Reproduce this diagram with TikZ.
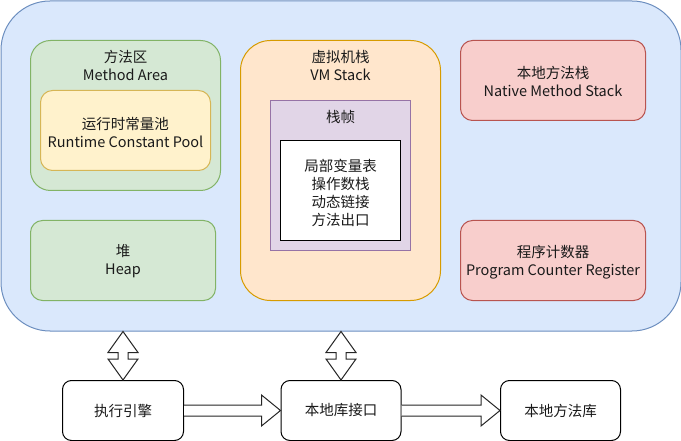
\documentclass[tikz,border=0pt]{standalone}
\usepackage{fontspec}
\setmainfont{Noto Sans CJK SC}
\usetikzlibrary{calc}
\definecolor{blueF}{HTML}{DAE8FC}\definecolor{blueS}{HTML}{6C8EBF}
\definecolor{greenF}{HTML}{D5E8D4}\definecolor{greenS}{HTML}{82B366}
\definecolor{yellowF}{HTML}{FFF2CC}\definecolor{yellowS}{HTML}{D6B656}
\definecolor{orangeF}{HTML}{FFE6CC}\definecolor{orangeS}{HTML}{D79B00}
\definecolor{purpleF}{HTML}{E1D5E7}\definecolor{purpleS}{HTML}{9673A6}
\definecolor{redF}{HTML}{F8CECC}\definecolor{redS}{HTML}{B85450}
\definecolor{txt}{HTML}{1A1A1A}
\tikzset{
  box/.style={draw, line width=1pt, anchor=north west, inner sep=0pt},
  lbl/.style={align=center, text=txt, inner sep=0pt, font=\fontsize{14.5pt}{18pt}\selectfont},
  flex/.style={draw=black!85, fill=white, line width=1pt, line join=miter},
}
\begin{document}
\begin{tikzpicture}[x=1pt,y=-1pt]
\useasboundingbox (0,0) rectangle (681,441);
% outer JVM box
\node[box, fill=blueF, draw=blueS, rounded corners=49pt, minimum width=680pt, minimum height=330pt] (jvm) at (0.5,0.5) {};
% Method area
\node[box, fill=greenF, draw=greenS, rounded corners=20pt, minimum width=190pt, minimum height=150pt] (ma) at (30,40) {};
\node[lbl] (malbl) at ($(ma.north)+(0,25.5)$) {方法区\\Method Area};
\node[box, fill=yellowF, draw=yellowS, rounded corners=12pt, minimum width=170pt, minimum height=80pt] (rcp) at (40,90) {};
\node[lbl] (rcplbl) at ($(rcp.center)+(0,2)$) {运行时常量池\\Runtime Constant Pool};
% Heap
\node[box, fill=greenF, draw=greenS, rounded corners=12pt, minimum width=185pt, minimum height=80pt] (heap) at (30,220) {};
\node[lbl] (heaplbl) at ($(heap.center)+(0,1)$) {堆\\Heap};
% VM stack
\node[box, fill=orangeF, draw=orangeS, rounded corners=30pt, minimum width=200pt, minimum height=260pt] (vms) at (240,40) {};
\node[lbl] (vmslbl) at ($(vms.north)+(0,25.5)$) {虚拟机栈\\VM Stack};
\node[box, fill=purpleF, draw=purpleS, minimum width=140pt, minimum height=150pt] (frame) at (270,100) {};
\node[lbl] (framelbl) at ($(frame.north)+(0,17)$) {栈帧};
\node[box, fill=white, draw=black, minimum width=120pt, minimum height=100pt] (fbox) at (280,140) {};
\node[lbl] (fboxlbl) at ($(fbox.center)+(0,2.5)$) {局部变量表\\操作数栈\\动态链接\\方法出口};
% Native method stack
\node[box, fill=redF, draw=redS, rounded corners=12pt, minimum width=185pt, minimum height=80pt] (nms) at (460,40) {};
\node[lbl] (nmslbl) at ($(nms.center)+(0,1)$) {本地方法栈\\Native Method Stack};
% PC register
\node[box, fill=redF, draw=redS, rounded corners=12pt, minimum width=185pt, minimum height=80pt] (pcr) at (460,220) {};
\node[lbl] (pcrlbl) at ($(pcr.center)+(0,2)$) {程序计数器\\Program Counter Register};
% bottom boxes
\node[box, fill=white, draw=black, rounded corners=9pt, minimum width=121pt, minimum height=60pt] (exec) at (62,380) {};
\node[lbl] at (exec.center) {执行引擎};
\node[box, fill=white, draw=black, rounded corners=9pt, minimum width=120pt, minimum height=60pt] (nif) at (280.5,380) {};
\node[lbl] at (nif.center) {本地库接口};
\node[box, fill=white, draw=black, rounded corners=9pt, minimum width=120pt, minimum height=60pt] (nlib) at (500,380) {};
\node[lbl] at (nlib.center) {本地方法库};
% double (vertical) flex arrows
\coordinate (t1) at (exec.north |- jvm.south);
\coordinate (t2) at (nif.north |- jvm.south);
\foreach \t/\b in {t1/exec, t2/nif}{
  \draw[flex] (\t) -- ++(15,21) -- ++(-10,0) -- ($(\b.north)+(5,-21)$) -- ++(10,0) -- (\b.north)
    -- ++(-15,-21) -- ++(10,0) -- ($(\t)+(-5,21)$) -- ++(-10,0) -- cycle;
}
% horizontal flex arrows
\foreach \a/\b in {exec/nif, nif/nlib}{
  \draw[flex] ($(\a.east)+(0,-5.5)$) -- ($(\b.west)+(-19,-5.5)$) -- ++(0,-10) -- (\b.west)
    -- ++(-19,15.5) -- ++(0,-10) -- ($(\a.east)+(0,5.5)$);
}
\end{tikzpicture}
\end{document}
